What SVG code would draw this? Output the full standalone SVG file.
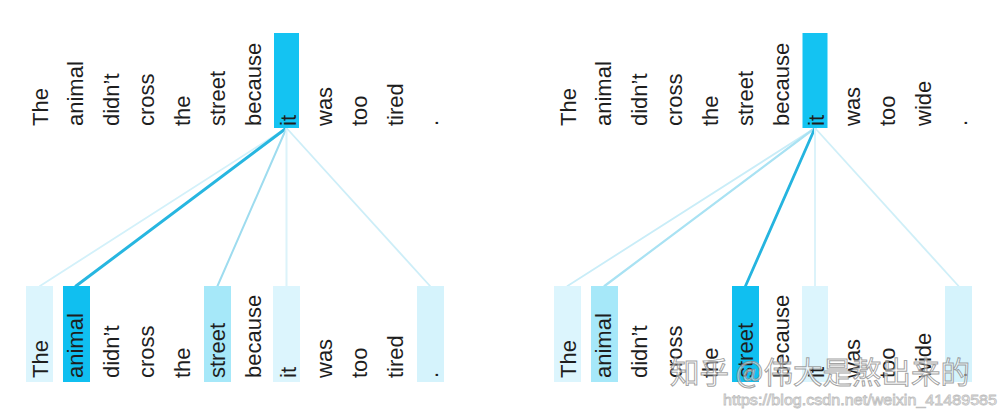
<svg xmlns="http://www.w3.org/2000/svg" width="1002" height="414" viewBox="0 0 1002 414">
<style>
.w{font-family:"Liberation Sans",Arial,Helvetica,sans-serif;font-size:22px;fill:#1e1e1e}
.hi{fill:#14c3f2}
.dk{fill:#10bff0}
.md{fill:#a6e8f9}
.lt{fill:#dcf5fd}
.lt2{fill:#d5f3fc}
.ln{fill:none;stroke-linecap:round}
.wm{font-family:"Noto Sans CJK SC","Liberation Sans",sans-serif;font-size:30px;fill:#ffffff;fill-opacity:0.55;stroke:#8a8a8a;stroke-width:1;stroke-opacity:0.8}
.url{font-family:"Liberation Sans",Arial,sans-serif;font-size:14px;fill:#ffffff;stroke:#c0c0c0;stroke-width:0.8}
</style>
<rect width="1002" height="414" fill="#ffffff"/>

<!-- connectors -->
<g id="connectors">
  <line class="ln" x1="286.5" y1="128" x2="40" y2="286" stroke="#d3f1fa" stroke-width="1.8"/>
  <line class="ln" x1="286.5" y1="128" x2="76" y2="286" stroke="#27b6e0" stroke-width="3"/>
  <line class="ln" x1="286.5" y1="128" x2="217.5" y2="286" stroke="#9edcef" stroke-width="2"/>
  <line class="ln" x1="286.5" y1="128" x2="286.5" y2="286" stroke="#dcf3fa" stroke-width="2"/>
  <line class="ln" x1="286.5" y1="128" x2="430" y2="286" stroke="#cdeef8" stroke-width="1.8"/>

  <line class="ln" x1="815" y1="128" x2="567.5" y2="286" stroke="#c9edf8" stroke-width="1.8"/>
  <line class="ln" x1="815" y1="128" x2="604.5" y2="286" stroke="#a9e2f3" stroke-width="2.2"/>
  <line class="ln" x1="815" y1="128" x2="745.5" y2="286" stroke="#25b4df" stroke-width="2.8"/>
  <line class="ln" x1="815" y1="128" x2="815" y2="286" stroke="#dcf3fa" stroke-width="2"/>
  <line class="ln" x1="815" y1="128" x2="958.5" y2="286" stroke="#cfeff8" stroke-width="1.8"/>
</g>

<!-- left panel: top row -->
<g id="left-top">
  <rect id="lt-it-box" class="hi" x="274" y="33" width="25" height="95"/>
  <text class="w" transform="translate(47.5,126) rotate(-90)">The</text>
  <text class="w" transform="translate(83,126) rotate(-90)">animal</text>
  <text class="w" transform="translate(118.5,126) rotate(-90)">didn’t</text>
  <text class="w" transform="translate(154,126) rotate(-90)">cross</text>
  <text class="w" transform="translate(189.5,126) rotate(-90)">the</text>
  <text class="w" transform="translate(225,126) rotate(-90)">street</text>
  <text class="w" transform="translate(260.5,126) rotate(-90)">because</text>
  <text class="w" transform="translate(295.5,126) rotate(-90)">it</text>
  <text class="w" transform="translate(331.5,126) rotate(-90)">was</text>
  <text class="w" transform="translate(367,126) rotate(-90)">too</text>
  <text class="w" transform="translate(402.5,126) rotate(-90)">tired</text>
  <text class="w" transform="translate(438,126) rotate(-90)">.</text>
</g>

<!-- left panel: bottom row -->
<g id="left-bottom">
  <rect class="lt" x="26" y="286" width="27" height="96"/>
  <rect class="dk" x="63" y="286" width="27" height="96"/>
  <rect class="md" x="204" y="286" width="27" height="96"/>
  <rect class="lt" x="273" y="286" width="27" height="96"/>
  <rect class="lt2" x="417" y="286" width="27" height="96"/>
  <text class="w" transform="translate(47.5,378) rotate(-90)">The</text>
  <text class="w" transform="translate(83,378) rotate(-90)">animal</text>
  <text class="w" transform="translate(118.5,378) rotate(-90)">didn’t</text>
  <text class="w" transform="translate(154,378) rotate(-90)">cross</text>
  <text class="w" transform="translate(189.5,378) rotate(-90)">the</text>
  <text class="w" transform="translate(225,378) rotate(-90)">street</text>
  <text class="w" transform="translate(260.5,378) rotate(-90)">because</text>
  <text class="w" transform="translate(295.5,378) rotate(-90)">it</text>
  <text class="w" transform="translate(331.5,378) rotate(-90)">was</text>
  <text class="w" transform="translate(367,378) rotate(-90)">too</text>
  <text class="w" transform="translate(402.5,378) rotate(-90)">tired</text>
  <text class="w" transform="translate(438,378) rotate(-90)">.</text>
</g>

<!-- right panel: top row -->
<g id="right-top">
  <rect id="rt-it-box" class="hi" x="802.5" y="33" width="25" height="95"/>
  <text class="w" transform="translate(575.5,126) rotate(-90)">The</text>
  <text class="w" transform="translate(611,126) rotate(-90)">animal</text>
  <text class="w" transform="translate(646.5,126) rotate(-90)">didn’t</text>
  <text class="w" transform="translate(682,126) rotate(-90)">cross</text>
  <text class="w" transform="translate(717.5,126) rotate(-90)">the</text>
  <text class="w" transform="translate(753,126) rotate(-90)">street</text>
  <text class="w" transform="translate(788.5,126) rotate(-90)">because</text>
  <text class="w" transform="translate(824,126) rotate(-90)">it</text>
  <text class="w" transform="translate(859.5,126) rotate(-90)">was</text>
  <text class="w" transform="translate(895,126) rotate(-90)">too</text>
  <text class="w" transform="translate(930.5,126) rotate(-90)">wide</text>
  <text class="w" transform="translate(966.5,126) rotate(-90)">.</text>
</g>

<!-- right panel: bottom row -->
<g id="right-bottom">
  <rect class="lt" x="554" y="286" width="27" height="96"/>
  <rect class="md" x="591" y="286" width="27" height="96"/>
  <rect class="dk" x="732" y="286" width="27" height="96"/>
  <rect class="lt" x="802" y="286" width="26" height="96"/>
  <rect class="lt2" x="945" y="286" width="27" height="96"/>
  <text class="w" transform="translate(575.5,378) rotate(-90)">The</text>
  <text class="w" transform="translate(611,378) rotate(-90)">animal</text>
  <text class="w" transform="translate(646.5,378) rotate(-90)">didn’t</text>
  <text class="w" transform="translate(682,378) rotate(-90)">cross</text>
  <text class="w" transform="translate(717.5,378) rotate(-90)">the</text>
  <text class="w" transform="translate(753,378) rotate(-90)">street</text>
  <text class="w" transform="translate(788.5,378) rotate(-90)">because</text>
  <text class="w" transform="translate(824,378) rotate(-90)">it</text>
  <text class="w" transform="translate(859.5,378) rotate(-90)">was</text>
  <text class="w" transform="translate(895,378) rotate(-90)">too</text>
  <text class="w" transform="translate(930.5,378) rotate(-90)">wide</text>
  <text class="w" transform="translate(966.5,378) rotate(-90)">.</text>
</g>

<!-- watermark -->
<g id="watermark">
  <text class="wm" x="670" y="383" textLength="300" lengthAdjust="spacingAndGlyphs">知乎 @伟大是熬出来的</text>
  <text class="url" x="723" y="405" textLength="274" lengthAdjust="spacingAndGlyphs">https://blog.csdn.net/weixin_41489585</text>
</g>
</svg>
